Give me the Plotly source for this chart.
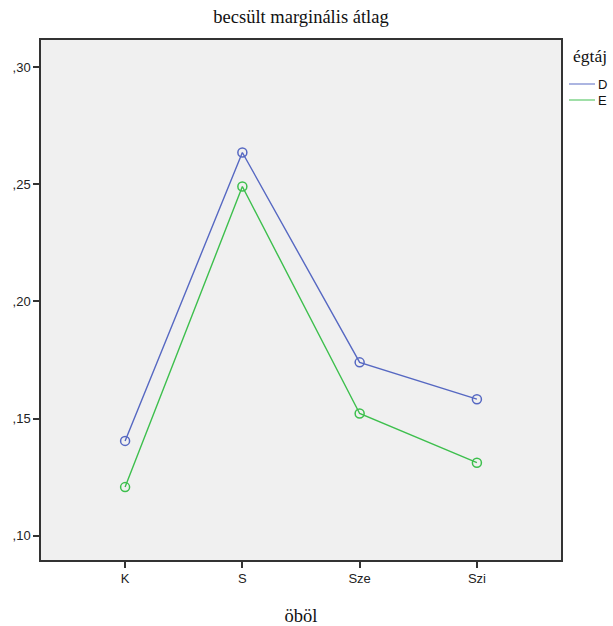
import plotly.graph_objects as go

categories = ["K", "S", "Sze", "Szi"]
series_D = [0.1405, 0.2635, 0.1740, 0.1583]
series_E = [0.1208, 0.2490, 0.1522, 0.1312]
y_tickvals = [0.10, 0.15, 0.20, 0.25, 0.30]
y_ticktext = [",10", ",15", ",20", ",25", ",30"]
legend_names = ["D", "E"]

col_D = "#5668c2"
col_E = "#3dbf4d"

L, R, T, B = 41, 52, 40, 66
W, H = 613, 626
pw, ph = W - L - R, H - T - B

def px_x(px):
    return (px - L) / pw

def px_y(py):
    return (H - B - py) / ph

fig = go.Figure()
for vals, col in [(series_D, col_D), (series_E, col_E)]:
    fig.add_trace(go.Scatter(
        x=list(range(len(categories))), y=vals, mode="lines+markers",
        line=dict(color=col, width=1.4),
        marker=dict(symbol="circle-open", size=9, color=col, line=dict(width=1.5)),
        showlegend=False, hoverinfo="skip"))

# manual legend
fig.add_annotation(text="égtáj", x=px_x(571), y=px_y(56), xref="paper", yref="paper",
                   xanchor="left", yanchor="middle", showarrow=False,
                   font=dict(family="Liberation Serif", size=17.5, color="#111"))
for name, col, py in [(legend_names[0], col_D, 84), (legend_names[1], col_E, 100)]:
    fig.add_shape(type="line", xref="paper", yref="paper",
                  x0=px_x(569), x1=px_x(595), y0=px_y(py), y1=px_y(py),
                  line=dict(color=col, width=1.3), opacity=0.75)
    fig.add_annotation(text=name, x=px_x(596), y=px_y(py), xref="paper", yref="paper",
                       xanchor="left", yanchor="middle", showarrow=False,
                       font=dict(family="Liberation Sans", size=13, color="#111"))

fig.update_layout(
    width=W, height=H,
    margin=dict(l=L, r=R, t=T, b=B, autoexpand=False),
    paper_bgcolor="white", plot_bgcolor="#f0f0f0",
    showlegend=False,
    title=dict(text="becsült marginális átlag", x=0.5, xref="paper", xanchor="center",
               y=1 - 17 / H, yanchor="middle", yref="container",
               font=dict(family="Liberation Serif", size=18.5, color="#111")),
    font=dict(family="Liberation Sans", size=13, color="#222"),
    xaxis=dict(range=[-0.717, 3.717], tickvals=list(range(len(categories))), ticktext=categories,
               ticks="outside", ticklen=6, tickwidth=1.5, tickcolor="#333", automargin=False,
               showgrid=False, zeroline=False, showline=True, linecolor="#333", linewidth=1.5,
               mirror=True,
               title=dict(text="öböl", standoff=26, font=dict(family="Liberation Serif", size=18.5, color="#111"))),
    yaxis=dict(range=[0.0897, 0.3115], tickvals=y_tickvals, ticktext=y_ticktext,
               ticks="outside", ticklen=6, tickwidth=1.5, tickcolor="#333", automargin=False,
               showgrid=False, zeroline=False, showline=True, linecolor="#333", linewidth=1.5,
               mirror=True),
)

fig.write_html("out.html", config={"displayModeBar": False},
               post_script="document.body.style.margin='0';document.body.style.overflow='hidden';")
